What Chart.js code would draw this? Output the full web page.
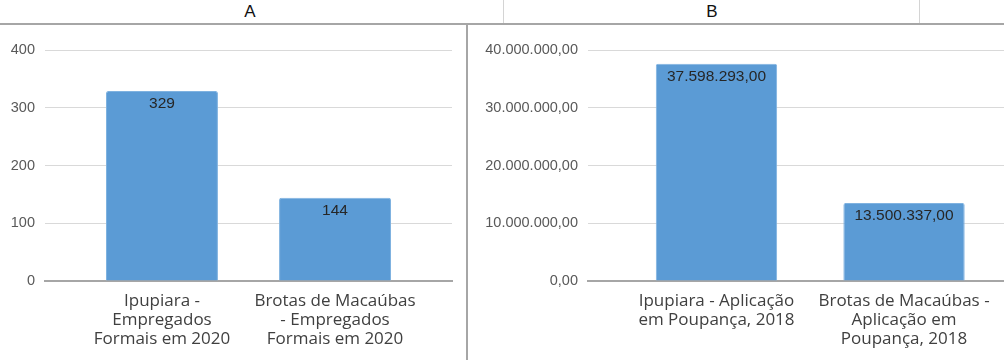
<!DOCTYPE html>
<html>
<head>
<meta charset="utf-8">
<script src="https://cdn.jsdelivr.net/npm/chart.js@4/dist/chart.umd.min.js"></script>
<style>
    body { margin: 0; background: #fff; width: 1004px; height: 360px; overflow: hidden; position: relative; font-family: "Liberation Sans", Arial, sans-serif; }
    .header { position: absolute; left: 0; top: 0; width: 1004px; height: 23px; border-bottom: 2px solid #a6a6a6; }
    .col { position: absolute; top: 2px; font-size: 17px; color: #111; transform: translateX(-50%); }
    .hsep { position: absolute; top: 0; width: 1px; height: 23px; background: #d4d4d4; }
    .vsep { position: absolute; left: 466px; top: 24px; width: 2px; height: 336px; background: #a6a6a6; }
    .box { position: absolute; top: 25px; height: 335px; }
</style>
</head>
<body>
<div class="header">
    <div class="col" style="left:250px">A</div>
    <div class="hsep" style="left:503px"></div>
    <div class="col" style="left:712px">B</div>
    <div class="hsep" style="left:919px"></div>
</div>
<div class="vsep"></div>
<div class="box" style="left:0; width:466px"><canvas id="chartA"></canvas></div>
<div class="box" style="left:470px; width:534px"><canvas id="chartB"></canvas></div>

<script>
// dados
const categoriasA = [
    ['Ipupiara -', 'Empregados', 'Formais em 2020'],
    ['Brotas de Macaúbas', '- Empregados', 'Formais em 2020']
];
const valoresA = [329, 144];
const ticksA = [0, 100, 200, 300, 400];

const categoriasB = [
    ['Ipupiara - Aplicação', 'em Poupança, 2018'],
    ['Brotas de Macaúbas -', 'Aplicação em', 'Poupança, 2018']
];
const valoresB = [37598293.00, 13500337.00];
const ticksB = [0, 10000000, 20000000, 30000000, 40000000];

const azul = '#5b9bd5';
const corTexto = '#404040';
const corTicks = '#595959';

// formato brasileiro: 40.000.000,00
const formatoBR = (v) => {
    const partes = v.toFixed(2).split('.');
    return partes[0].replace(/\B(?=(\d{3})+(?!\d))/g, '.') + ',' + partes[1];
};

const rotulosBarras = (formatar) => ({
    id: 'rotulosBarras',
    afterDatasetsDraw(chart) {
        const ctx = chart.ctx;
        const valores = chart.data.datasets[0].data;
        chart.getDatasetMeta(0).data.forEach((bar, i) => {
            ctx.save();
            ctx.font = '15.5px "Liberation Sans", Arial, sans-serif';
            ctx.fillStyle = '#262626';
            ctx.textAlign = 'center';
            ctx.textBaseline = 'middle';
            ctx.fillText(formatar(valores[i].y), bar.x, bar.y + 13);
            ctx.restore();
        });
    }
});

const criarGrafico = (id, categorias, valores, ticks, cfg) => {
    const pontos = valores.map((v, i) => ({ x: i, y: v }));
    return new Chart(document.getElementById(id), {
        type: 'bar',
        data: {
            datasets: [{
                data: pontos,
                backgroundColor: azul,
                borderColor: '#7fb2e0',
                borderWidth: 1,
                borderRadius: 2,
                categoryPercentage: 1,
                barPercentage: 0.647
            }]
        },
        plugins: [rotulosBarras(cfg.formatoRotulo)],
        options: {
            responsive: true,
            maintainAspectRatio: false,
            animation: false,
            layout: { padding: { left: 0, right: cfg.direita, top: 25, bottom: 0 } },
            plugins: { legend: { display: false }, tooltip: { enabled: false } },
            scales: {
                x: {
                    type: 'linear',
                    offset: false,
                    min: cfg.xMin,
                    max: cfg.xMax,
                    afterBuildTicks: (scale) => { scale.ticks = categorias.map((c, i) => ({ value: i })); },
                    afterFit: (scale) => { scale.height = 79; },
                    grid: { display: false, offset: false },
                    border: { display: true, color: '#a6a6a6', width: 2 },
                    ticks: {
                        autoSkip: false,
                        maxRotation: 0,
                        padding: 3,
                        color: corTexto,
                        font: { family: '"Open Sans", "Liberation Sans", sans-serif', size: 17, lineHeight: '19px' },
                        callback: (v, i) => categorias[i]
                    }
                },
                y: {
                    min: 0,
                    max: ticks[ticks.length - 1],
                    afterBuildTicks: (scale) => { scale.ticks = ticks.map(v => ({ value: v })); },
                    afterFit: (scale) => { scale.width = cfg.larguraY; },
                    border: { display: false },
                    grid: {
                        drawTicks: false,
                        color: (c) => c.tick && c.tick.value === 0 ? 'rgba(0,0,0,0)' : '#d9d9d9',
                        lineWidth: 1
                    },
                    ticks: {
                        padding: 10,
                        color: corTicks,
                        font: { family: '"Liberation Sans", Arial, sans-serif', size: 14.5 },
                        callback: cfg.formatoTick
                    }
                }
            }
        }
    });
};

criarGrafico('chartA', categoriasA, valoresA, ticksA, {
    xMin: -0.676, xMax: 1.676, larguraY: 45, direita: 14,
    formatoRotulo: (v) => String(v),
    formatoTick: (v) => String(v)
});

criarGrafico('chartB', categoriasB, valoresB, ticksB, {
    xMin: -0.685, xMax: 1.533, larguraY: 118, direita: 0,
    formatoRotulo: formatoBR,
    formatoTick: (v) => formatoBR(v)
});
</script>
</body>
</html>
